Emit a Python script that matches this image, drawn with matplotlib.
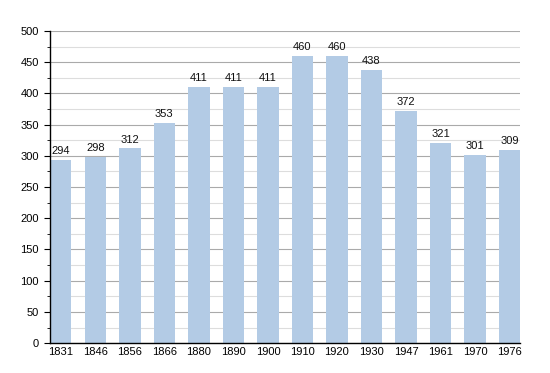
import matplotlib.pyplot as plt
from matplotlib.ticker import MultipleLocator

plt.rcParams["font.family"] = ["Liberation Sans", "DejaVu Sans"]

years = ["1831", "1846", "1856", "1866", "1880", "1890", "1900",
         "1910", "1920", "1930", "1947", "1961", "1970", "1976"]
population = [294, 298, 312, 353, 411, 411, 411, 460, 460, 438, 372, 321, 301, 309]

fig = plt.figure(figsize=(5.5, 3.73), dpi=100)
ax = fig.add_axes([0.091, 0.080, 0.855, 0.837])

x = range(len(years))
ax.bar(x, population, width=0.62, color="#b3cbe5", zorder=2)
for i, v in zip(x, population):
    ax.text(i, v + 6, str(v), ha="center", va="bottom", fontsize=8, color="#111111")

ax.set_xlim(-0.31, len(years) - 0.69)
ax.set_ylim(0, 500)
ax.set_xticks(list(x))
ax.set_xticklabels(years)
ax.yaxis.set_major_locator(MultipleLocator(50))
ax.yaxis.set_minor_locator(MultipleLocator(25))
ax.grid(axis="y", which="major", color="#aaaaaa", linewidth=0.8, zorder=0)
ax.grid(axis="y", which="minor", color="#dddddd", linewidth=0.8, zorder=0)
for s in ["top", "right"]:
    ax.spines[s].set_visible(False)
ax.spines["left"].set_linewidth(1.0)
ax.spines["bottom"].set_linewidth(1.0)
ax.tick_params(axis="x", length=0, labelsize=8, pad=3)
ax.tick_params(axis="y", which="major", length=4, labelsize=8, pad=4)
ax.tick_params(axis="y", which="minor", length=2)

fig.savefig("out.png", dpi=100)
